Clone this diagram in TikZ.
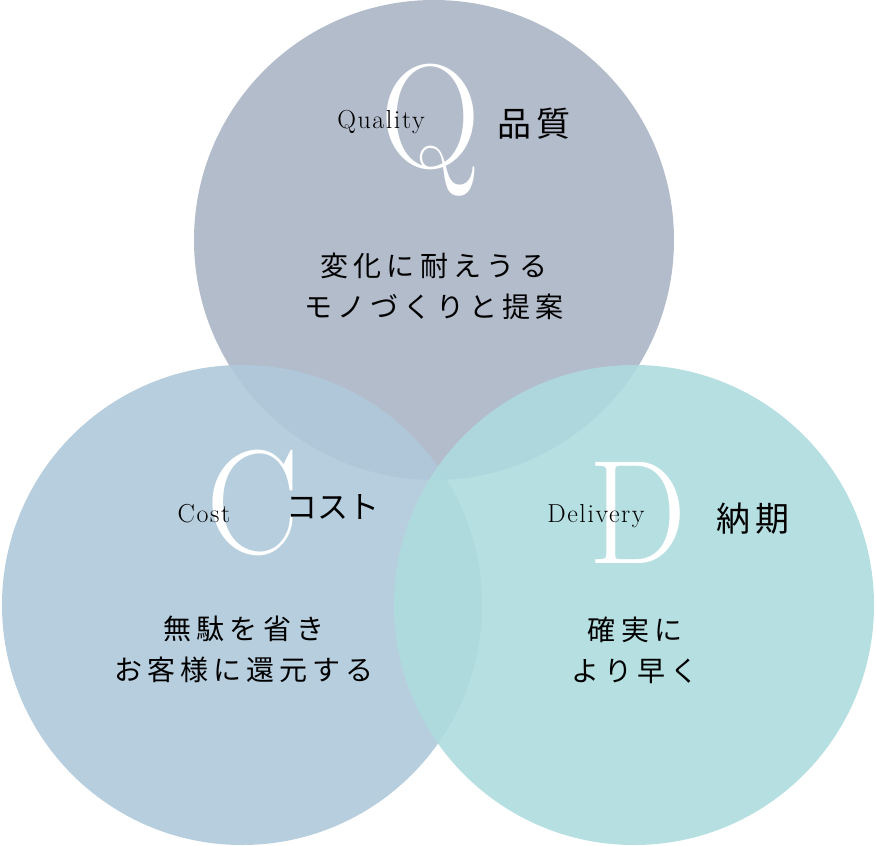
\documentclass[tikz,border=0pt]{standalone}
\usepackage{fontspec}
\usepackage{graphicx}
\usepackage{tikz}
\usetikzlibrary{positioning, calc}
\usepackage{xcolor}

\newfontfamily\jpfont[LetterSpace=18]{Noto Sans CJK JP}
\newfontfamily\jphead[LetterSpace=16]{Noto Sans CJK JP}
\newfontfamily\latinlabel[LetterSpace=6]{Latin Modern Roman}

\definecolor{qualityblue}{RGB}{179,188,203}
\definecolor{costblue}{RGB}{175,201,218}
\definecolor{deliveryteal}{RGB}{173,219,222}

\newcommand{\bigletter}[1]{\scalebox{0.94}[1]{\fontsize{148}{148}\selectfont #1}}

\begin{document}
\begin{tikzpicture}[
    x=1pt, y=-1pt,
    bubble/.style={
        circle, minimum size=480pt, inner sep=0pt, draw=none
    },
    initial/.style={anchor=base, text=white, inner sep=0pt},
    enlabel/.style={anchor=base, inner sep=0pt, font=\latinlabel\fontsize{26}{26}\selectfont},
    jplabel/.style={inner sep=0pt, font=\jphead\fontsize{34}{34}\selectfont},
    body/.style={align=center, inner sep=0pt, font=\jpfont\fontsize{28}{41}\selectfont}
]
    \useasboundingbox (0,0) rectangle (876,846);

    % circles
    \node[bubble, fill=qualityblue] (quality) at (434,240) {};
    \node[bubble, fill=costblue, fill opacity=0.9] (cost) at (242,605) {};
    \node[bubble, fill=deliveryteal, fill opacity=0.9] (delivery) at (634,605) {};

    % Q
    \node[initial] (qinit) at (431,167) {\bigletter{Q}};
    \node[enlabel] (qen) at (381,128) {Quality};
    \node[jplabel] (qjp) at (534,124) {品質};
    \node[body] (qbody) at (434,286) {変化に耐えうる\\モノづくりと提案};

    % C
    \node[initial] (cinit) at (253,553) {\bigletter{C}};
    \node[enlabel] (cen) at (204,522) {Cost};
    \node[jplabel, font=\jpfont\addfontfeature{LetterSpace=0}\fontsize{31}{31}\selectfont] (cjp) at (333,507) {コスト};
    \node[body] (cbody) at (244,649) {無駄を省き\\お客様に還元する};

    % D
    \node[initial] (dinit) at (638,563) {\bigletter{D}};
    \node[enlabel] (den) at (596,522) {Delivery};
    \node[jplabel] (djp) at (753,519) {納期};
    \node[body] (dbody) at (635,650) {確実に\\より早く};
\end{tikzpicture}
\end{document}
